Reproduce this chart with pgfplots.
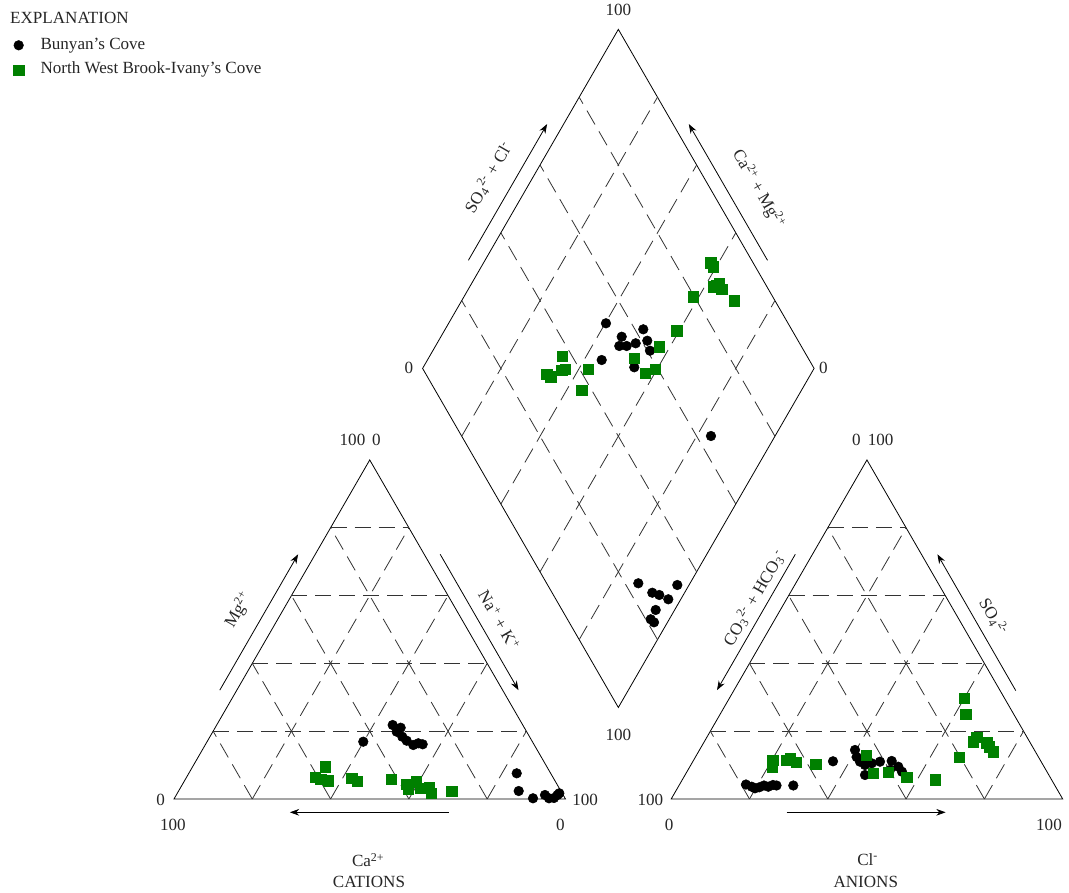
\documentclass[border=0pt]{standalone}
\usepackage{pgfplots}
\pgfplotsset{compat=1.18}
\usepackage{fontspec}
\setmainfont{Liberation Serif}
\usetikzlibrary{arrows.meta}

\definecolor{nwgreen}{RGB}{0,128,0}

% Piper diagram in plane units: each triangle side = 100.
% Cation triangle: x 0..100, anion triangle: x 127..227, diamond between them.
\tikzset{
  lab/.style={font=\fontsize{12.8}{14}\selectfont, inner sep=0pt, text=black!85},
  frame/.style={line width=0.6pt, black},
  grid/.style={line width=0.6pt, black!80, dash pattern=on 12pt off 6pt},
  dirarrow/.style={line width=0.6pt, black, -{Stealth[length=7pt,width=5pt]}},
}

\begin{document}
\begin{tikzpicture}
\begin{axis}[
  name=piper,
  scale only axis, width=801.75pt, height=669.75pt,
  xmin=-44.44, xmax=228.61, ymin=-24.01, ymax=204.09,
  hide axis, clip=false,
  legend cell align=left,
  legend image code/.code={\draw[#1] plot coordinates {(0pt,0pt)};},
  legend style={
    at={(axis cs:-41.0,194.9)}, anchor=north west,
    draw=none, fill=none, inner sep=0pt, outer sep=0pt,
    font=\fontsize{12.8}{14}\selectfont,
    row sep=4.5pt,
    nodes={inner sep=1pt, text height=9pt, text depth=3pt, text=black!85},
    /tikz/every odd column/.append style={column sep=11.5pt},
  },
]

% ---------- frames ----------
\draw[frame] (axis cs:0,0) -- (axis cs:100,0) -- (axis cs:50,86.6025) -- cycle;
\draw[frame] (axis cs:127,0) -- (axis cs:227,0) -- (axis cs:177,86.6025) -- cycle;
\draw[frame] (axis cs:113.5,23.3827) -- (axis cs:163.5,109.9852) -- (axis cs:113.5,196.5877) -- (axis cs:63.5,109.9852) -- cycle;

% ---------- cation triangle grid ----------
\draw[grid] (axis cs:10,17.3205) -- (axis cs:90,17.3205);
\draw[grid] (axis cs:20,34.641) -- (axis cs:80,34.641);
\draw[grid] (axis cs:30,51.9615) -- (axis cs:70,51.9615);
\draw[grid] (axis cs:40,69.282) -- (axis cs:60,69.282);
\draw[grid] (axis cs:20,0) -- (axis cs:60,69.282);
\draw[grid] (axis cs:40,0) -- (axis cs:70,51.9615);
\draw[grid] (axis cs:60,0) -- (axis cs:80,34.641);
\draw[grid] (axis cs:80,0) -- (axis cs:90,17.3205);
\draw[grid] (axis cs:20,0) -- (axis cs:10,17.3205);
\draw[grid] (axis cs:40,0) -- (axis cs:20,34.641);
\draw[grid] (axis cs:60,0) -- (axis cs:30,51.9615);
\draw[grid] (axis cs:80,0) -- (axis cs:40,69.282);

% ---------- anion triangle grid ----------
\draw[grid] (axis cs:137,17.3205) -- (axis cs:217,17.3205);
\draw[grid] (axis cs:147,34.641) -- (axis cs:207,34.641);
\draw[grid] (axis cs:157,51.9615) -- (axis cs:197,51.9615);
\draw[grid] (axis cs:167,69.282) -- (axis cs:187,69.282);
\draw[grid] (axis cs:147,0) -- (axis cs:187,69.282);
\draw[grid] (axis cs:167,0) -- (axis cs:197,51.9615);
\draw[grid] (axis cs:187,0) -- (axis cs:207,34.641);
\draw[grid] (axis cs:207,0) -- (axis cs:217,17.3205);
\draw[grid] (axis cs:147,0) -- (axis cs:137,17.3205);
\draw[grid] (axis cs:167,0) -- (axis cs:147,34.641);
\draw[grid] (axis cs:187,0) -- (axis cs:157,51.9615);
\draw[grid] (axis cs:207,0) -- (axis cs:167,69.282);

% ---------- diamond grid ----------
\draw[grid] (axis cs:123.5,40.7032) -- (axis cs:73.5,127.3057);
\draw[grid] (axis cs:133.5,58.0237) -- (axis cs:83.5,144.6262);
\draw[grid] (axis cs:143.5,75.3442) -- (axis cs:93.5,161.9467);
\draw[grid] (axis cs:153.5,92.6647) -- (axis cs:103.5,179.2672);
\draw[grid] (axis cs:103.5,40.7032) -- (axis cs:153.5,127.3057);
\draw[grid] (axis cs:93.5,58.0237) -- (axis cs:143.5,144.6262);
\draw[grid] (axis cs:83.5,75.3442) -- (axis cs:133.5,161.9467);
\draw[grid] (axis cs:73.5,92.6647) -- (axis cs:123.5,179.2672);

% ---------- direction arrows ----------
\draw[dirarrow] (axis cs:11.7,27.8) -- (axis cs:31.7,62.5);
\draw[dirarrow] (axis cs:68.0,62.5) -- (axis cs:88.0,27.8);
\draw[dirarrow] (axis cs:70.2,-3.4) -- (axis cs:29.6,-3.4);
\draw[dirarrow] (axis cs:158.7,62.5) -- (axis cs:138.7,27.8);
\draw[dirarrow] (axis cs:215.0,27.7) -- (axis cs:195.0,62.5);
\draw[dirarrow] (axis cs:156.5,-3.4) -- (axis cs:197.1,-3.4);
\draw[dirarrow] (axis cs:75.2,137.6) -- (axis cs:95.3,172.4);
\draw[dirarrow] (axis cs:151.6,137.6) -- (axis cs:131.5,172.4);

% ---------- scale numbers ----------
\node[lab] at (axis cs:45.6,91.7) {100};
\node[lab] at (axis cs:51.7,91.7) {0};
\node[lab] at (axis cs:-3.4,-0.3) {0};
\node[lab] at (axis cs:-0.3,-6.6) {100};
\node[lab] at (axis cs:105.0,-0.3) {100};
\node[lab] at (axis cs:98.7,-6.6) {0};
\node[lab] at (axis cs:174.3,91.7) {0};
\node[lab] at (axis cs:180.5,91.7) {100};
\node[lab] at (axis cs:121.7,-0.3) {100};
\node[lab] at (axis cs:126.5,-6.6) {0};
\node[lab] at (axis cs:223.5,-6.6) {100};
\node[lab] at (axis cs:113.5,201.6) {100};
\node[lab] at (axis cs:113.5,16.3) {100};
\node[lab] at (axis cs:60.0,110.0) {0};
\node[lab] at (axis cs:165.9,110.0) {0};

% ---------- axis titles ----------
\node[lab, rotate=60] at (axis cs:16.4,48.3) {Mg\textsuperscript{2+}};
\node[lab, rotate=-60] at (axis cs:83.1,45.7) {Na\textsuperscript{+} + K\textsuperscript{+}};
\node[lab] at (axis cs:49.6,-15.6) {Ca\textsuperscript{2+}};
\node[lab] at (axis cs:49.8,-21.3) {CATIONS};
\node[lab, rotate=60] at (axis cs:148.2,51.3) {CO\textsubscript{3}\textsuperscript{2-} + HCO\textsubscript{3}\textsuperscript{-}};
\node[lab, rotate=-60] at (axis cs:209.3,46.6) {SO\textsubscript{4}\textsuperscript{2-}};
\node[lab] at (axis cs:177.2,-15.4) {Cl\textsuperscript{-}};
\node[lab] at (axis cs:176.7,-21.3) {ANIONS};
\node[lab, rotate=60] at (axis cs:80.3,158.7) {SO\textsubscript{4}\textsuperscript{2-} + Cl\textsuperscript{-}};
\node[lab, rotate=-60] at (axis cs:149.3,155.8) {Ca\textsuperscript{2+} + Mg\textsuperscript{2+}};

% ---------- legend heading ----------
\node[lab, anchor=west] at (axis cs:-41.9,199.4) {EXPLANATION};

% ---------- Bunyan's Cove ----------
\addplot[only marks, mark=*, mark size=3.6pt, black] coordinates {
 (48.35,14.64) (55.86,18.90) (57.90,18.21) (56.88,17.19) (58.31,15.91)
 (59.44,14.89) (61.12,13.79) (62.40,14.23) (63.52,13.97)
 (87.54,6.56) (88.05,2.04) (91.70,0.18) (94.76,1.02) (95.79,0.18)
 (97.06,0.26) (97.96,1.02) (98.42,1.46)
};
\addlegendentry{Bunyan's Cove}
\addplot[only marks, mark=*, mark size=3.6pt, black, forget plot] coordinates {
 (110.34,121.51) (109.25,112.13) (114.36,118.08) (113.74,115.71) (115.63,115.71)
 (117.93,116.40) (119.87,119.97) (120.89,117.06) (121.58,114.51) (117.57,110.27)
 (137.16,92.72)
 (118.60,55.10) (122.17,52.69) (123.96,52.11) (126.26,51.01) (128.56,54.66)
 (123.04,48.28) (121.76,45.90) (122.61,45.13)
};
\addplot[only marks, mark=*, mark size=3.6pt, black, forget plot] coordinates {
 (146.10,3.70) (147.56,3.14) (148.40,2.73) (149.50,2.99) (150.70,3.45)
 (151.80,3.14) (153.00,3.58) (153.90,3.45) (158.19,3.45) (168.33,9.63)
 (173.95,12.52) (174.38,10.73) (175.22,9.53) (176.50,8.68) (178.21,9.12)
 (180.33,9.53) (183.32,9.71) (185.01,8.25) (185.95,6.97) (176.50,6.13)
 (182.89,7.41)
};

% ---------- North West Brook-Ivany's Cove ----------
\addplot[only marks, mark=square*, mark size=3.9pt, draw=nwgreen, fill=nwgreen] coordinates {
 (38.57,8.25) (36.02,5.54) (37.47,5.11) (39.41,4.67) (45.39,5.29)
 (46.82,4.60) (55.43,5.03) (59.44,3.83) (59.77,2.55) (61.81,4.42)
 (62.91,2.81) (65.26,2.99) (65.64,1.40) (70.93,1.99)
};
\addlegendentry{North West Brook-Ivany's Cove}
\addplot[only marks, mark=square*, mark size=3.9pt, draw=nwgreen, fill=nwgreen, forget plot] coordinates {
 (137.09,136.99) (137.75,135.96) (139.28,131.72) (137.75,130.86) (139.90,130.19)
 (138.62,131.29) (143.12,127.28) (132.64,128.30) (128.40,119.62) (123.96,115.53)
 (117.57,112.57) (122.86,109.76) (120.31,108.74) (105.82,109.83) (104.14,104.47)
 (99.18,113.15) (99.87,109.76) (99.03,109.58) (95.20,108.48) (96.22,107.87)
};
\addplot[only marks, mark=square*, mark size=3.9pt, draw=nwgreen, fill=nwgreen, forget plot] coordinates {
 (201.86,25.72) (202.22,21.71) (205.03,15.84) (204.09,14.64) (207.59,14.38)
 (208.30,13.36) (209.27,12.08) (200.51,10.60) (194.46,4.93) (187.15,5.62)
 (182.45,6.90) (178.62,6.56) (176.76,11.24) (163.91,8.94) (159.00,9.32)
 (157.34,10.34) (156.50,9.83) (152.92,9.96) (152.75,8.10)
};

\end{axis}
\pgfresetboundingbox
\path (piper.south west) rectangle (piper.north east);
\end{tikzpicture}
\end{document}
